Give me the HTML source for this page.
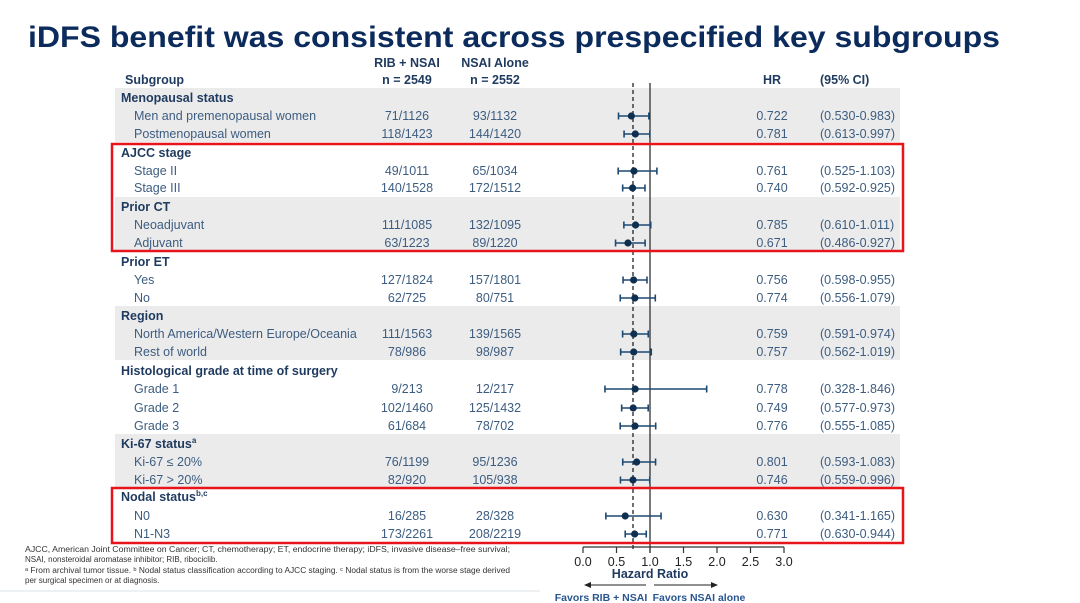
<!DOCTYPE html>
<html><head><meta charset="utf-8"><style>
body{margin:0;background:#fff;}
svg{display:block;font-family:"Liberation Sans Narrow","Liberation Sans",sans-serif;}
.h{font-weight:bold;fill:#1f3a5f;font-size:12.5px}
.r{fill:#3d5d80;font-size:12.5px}
.c{text-anchor:middle}
.f{fill:#333;font-size:8px}
</style></head><body>
<svg width="1080" height="603" viewBox="0 0 1080 603">
<text x="28" y="47" font-family="Liberation Sans" font-weight="bold" font-size="30" fill="#0b2b5c" textLength="972" lengthAdjust="spacingAndGlyphs">iDFS benefit was consistent across prespecified key subgroups</text>
<g fill="#ebebeb">
<rect x="115" y="88" width="785" height="54"/>
<rect x="115" y="197" width="785" height="54"/>
<rect x="115" y="306" width="785" height="54"/>
<rect x="115" y="434" width="785" height="54"/>
</g>
<g class="h">
<text x="125" y="84">Subgroup</text>
<text x="407" y="67" class="c">RIB + NSAI</text><text x="407" y="84" class="c">n = 2549</text>
<text x="495" y="67" class="c">NSAI Alone</text><text x="495" y="84" class="c">n = 2552</text>
<text x="772" y="84" class="c">HR</text><text x="820" y="84">(95% CI)</text>
<text x="121" y="102">Menopausal status</text>
<text x="121" y="157">AJCC stage</text>
<text x="121" y="211">Prior CT</text>
<text x="121" y="266">Prior ET</text>
<text x="121" y="320">Region</text>
<text x="121" y="375">Histological grade at time of surgery</text>
<text x="121" y="448">Ki-67 status<tspan font-size="8" dy="-5">a</tspan></text>
<text x="121" y="501">Nodal status<tspan font-size="8" dy="-5">b,c</tspan></text>
</g>
<line x1="633" y1="83" x2="633" y2="550" stroke="#222" stroke-width="1.3" stroke-dasharray="4,3"/>
<line x1="650" y1="83" x2="650" y2="553" stroke="#222" stroke-width="1.2"/>
<g id="rows"></g>
<rect x="112" y="144" width="791" height="107" fill="none" stroke="#e8141b" stroke-width="2.5"/>
<rect x="112" y="488" width="791" height="55" fill="none" stroke="#e8141b" stroke-width="2.5"/>
<g stroke="#333" stroke-width="1.2">
<line x1="583" y1="547" x2="784" y2="547"/>
</g>
<g id="ticks"></g>
<text x="650" y="578" class="h c" font-size="12">Hazard Ratio</text>
<line x1="590" y1="585" x2="646" y2="585" stroke="#222"/><polygon points="584,585 591,582 591,588" fill="#222"/>
<line x1="654" y1="585" x2="712" y2="585" stroke="#222"/><polygon points="718,585 711,582 711,588" fill="#222"/>
<text x="601" y="601" class="c" font-size="10.5" font-weight="bold" fill="#2a5590">Favors RIB + NSAI</text>
<text x="699" y="601" class="c" font-size="10.5" font-weight="bold" fill="#2a5590">Favors NSAI alone</text>
<text x="25" y="552" class="f" textLength="485" lengthAdjust="spacingAndGlyphs">AJCC, American Joint Committee on Cancer; CT, chemotherapy; ET, endocrine therapy; iDFS, invasive disease–free survival;</text>
<text x="25" y="562" class="f">NSAI, nonsteroidal aromatase inhibitor; RIB, ribociclib.</text>
<text x="25" y="573" class="f" textLength="485" lengthAdjust="spacingAndGlyphs">ᵃ From archival tumor tissue. ᵇ Nodal status classification according to AJCC staging. ᶜ Nodal status is from the worse stage derived</text>
<text x="25" y="583" class="f">per surgical specimen or at diagnosis.</text>
<line x1="0" y1="591" x2="540" y2="591" stroke="#dde3ea"/>
</svg>
<script>
const rows=[
["Men and premenopausal women","71/1126","93/1132","0.722","(0.530-0.983)",120,.722,.530,.983],
["Postmenopausal women","118/1423","144/1420","0.781","(0.613-0.997)",138,.781,.613,.997],
["Stage II","49/1011","65/1034","0.761","(0.525-1.103)",175,.761,.525,1.103],
["Stage III","140/1528","172/1512","0.740","(0.592-0.925)",192,.740,.592,.925],
["Neoadjuvant","111/1085","132/1095","0.785","(0.610-1.011)",229,.785,.610,1.011],
["Adjuvant","63/1223","89/1220","0.671","(0.486-0.927)",247,.671,.486,.927],
["Yes","127/1824","157/1801","0.756","(0.598-0.955)",284,.756,.598,.955],
["No","62/725","80/751","0.774","(0.556-1.079)",302,.774,.556,1.079],
["North America/Western Europe/Oceania","111/1563","139/1565","0.759","(0.591-0.974)",338,.759,.591,.974],
["Rest of world","78/986","98/987","0.757","(0.562-1.019)",356,.757,.562,1.019],
["Grade 1","9/213","12/217","0.778","(0.328-1.846)",393,.778,.328,1.846],
["Grade 2","102/1460","125/1432","0.749","(0.577-0.973)",412,.749,.577,.973],
["Grade 3","61/684","78/702","0.776","(0.555-1.085)",430,.776,.555,1.085],
["Ki-67 ≤ 20%","76/1199","95/1236","0.801","(0.593-1.083)",466,.801,.593,1.083],
["Ki-67 > 20%","82/920","105/938","0.746","(0.559-0.996)",484,.746,.559,.996],
["N0","16/285","28/328","0.630","(0.341-1.165)",520,.630,.341,1.165],
["N1-N3","173/2261","208/2219","0.771","(0.630-0.944)",538,.771,.630,.944]];
const X=v=>583+67*v;let s="";
for(const r of rows){const y=r[5];
s+=`<text class="r" x="134" y="${y}">${r[0]}</text><text class="r c" x="407" y="${y}">${r[1]}</text><text class="r c" x="495" y="${y}">${r[2]}</text><text class="r c" x="772" y="${y}">${r[3]}</text><text class="r" x="820" y="${y}">${r[4]}</text>`;
const cy=y-4,a=X(r[7]),b=X(r[8]),m=X(r[6]);
s+=`<g stroke="#1d4a72" stroke-width="1.6"><line x1="${a}" y1="${cy}" x2="${b}" y2="${cy}"/><line x1="${a}" y1="${cy-3.5}" x2="${a}" y2="${cy+3.5}"/><line x1="${b}" y1="${cy-3.5}" x2="${b}" y2="${cy+3.5}"/></g><circle cx="${m}" cy="${cy}" r="3.6" fill="#0f2f50"/>`;}
document.getElementById("rows").innerHTML=s;
let t="";for(let i=0;i<=6;i++){const x=X(i*.5);t+=`<line x1="${x}" y1="547" x2="${x}" y2="553" stroke="#333" stroke-width="1.2"/><text x="${x}" y="566" text-anchor="middle" font-size="12.5" fill="#222">${(i*.5).toFixed(1)}</text>`;}
document.getElementById("ticks").innerHTML=t;
</script>
</body></html>
